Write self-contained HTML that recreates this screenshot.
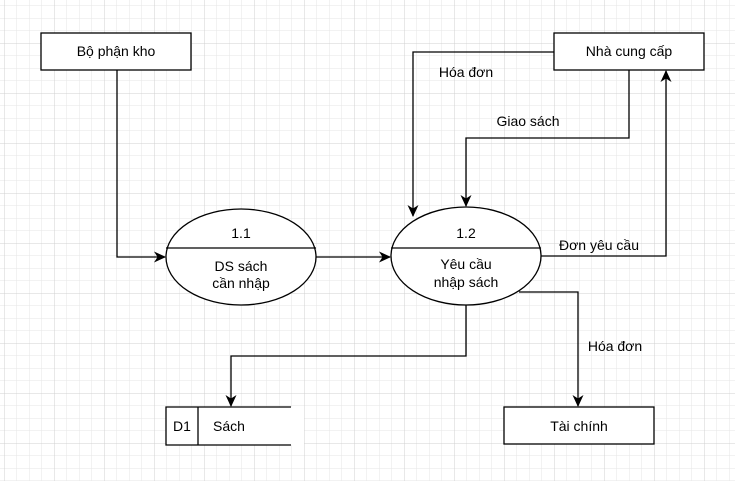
<!DOCTYPE html>
<html><head><meta charset="utf-8"><style>
html,body{margin:0;padding:0;background:#fff}
svg{display:block}
text{font-family:"Liberation Sans",Arial,sans-serif;font-size:14px;fill:#000}
</style></head><body>
<svg width="735" height="481" viewBox="0 0 735 481" xmlns="http://www.w3.org/2000/svg">
<defs>
<pattern id="minor" x="4" y="5.5" width="12.5" height="12.5" patternUnits="userSpaceOnUse">
<path d="M0 0H12.5M0 0V12.5" stroke="#e6e6e6" stroke-width="1" fill="none"/>
</pattern>
<pattern id="major" x="4" y="-7" width="50" height="50" patternUnits="userSpaceOnUse">
<path d="M0 0H50M0 0V50" stroke="#d0d0d0" stroke-width="1" fill="none"/>
</pattern>
<marker id="a" markerWidth="12" markerHeight="12" refX="11" refY="6" orient="auto" markerUnits="userSpaceOnUse">
<path d="M0 0.5L12 6L0 11.5L3.5 6Z" fill="#000"/>
</marker>
</defs>
<rect width="735" height="481" fill="url(#minor)"/>
<rect width="735" height="481" fill="url(#major)"/>
<g stroke="#000" stroke-width="1.3" fill="none">
<path d="M117 70V257H165" marker-end="url(#a)"/>
<path d="M316 257H390" marker-end="url(#a)"/>
<path d="M554 52H413V216" marker-end="url(#a)"/>
<path d="M629 70V138H466V206" marker-end="url(#a)"/>
<path d="M541 256H666V71" marker-end="url(#a)"/>
<path d="M466 305V356H231V406" marker-end="url(#a)"/>
<path d="M519 292H578V406" marker-end="url(#a)"/>
</g>
<g stroke="#000" stroke-width="1.3" fill="#fff">
<rect x="41" y="33" width="150" height="37"/>
<rect x="554" y="33" width="150" height="37"/>
<ellipse cx="241" cy="257" rx="75" ry="48"/>
<ellipse cx="466" cy="256" rx="75" ry="49"/>
<rect x="504" y="407" width="150" height="37"/>
</g>
<rect x="166" y="407" width="138" height="38" fill="#fff"/>
<g stroke="#000" stroke-width="1.3" fill="none">
<line x1="166" y1="248" x2="316" y2="248"/>
<line x1="391" y1="248" x2="541" y2="248"/>
<path d="M291 407H166V445H291"/>
<line x1="198" y1="407" x2="198" y2="445"/>
</g>
<g text-anchor="middle">
<text x="116" y="56">Bộ phận kho</text>
<text x="629" y="56">Nhà cung cấp</text>
<text x="241" y="238">1.1</text>
<text x="241" y="271">DS sách</text>
<text x="241" y="288">cần nhập</text>
<text x="466" y="238">1.2</text>
<text x="466" y="269">Yêu cầu</text>
<text x="466" y="287">nhập sách</text>
<text x="579" y="431">Tài chính</text>
<text x="182" y="431">D1</text>
<text x="229" y="431">Sách</text>
<text x="466" y="77">Hóa đơn</text>
<text x="528" y="126">Giao sách</text>
<text x="599" y="250">Đơn yêu cầu</text>
<text x="615" y="351">Hóa đơn</text>
</g>
</svg>
</body></html>
